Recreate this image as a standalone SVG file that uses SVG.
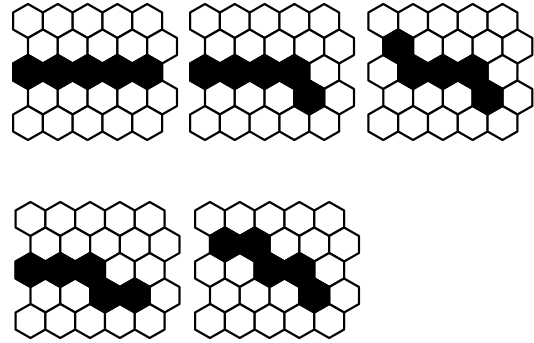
<svg xmlns="http://www.w3.org/2000/svg" xmlns:xlink="http://www.w3.org/1999/xlink" width="534" height="343" viewBox="0 0 534 343">
<style>
.h{stroke:#000;stroke-width:2.2;stroke-linejoin:round}
.w{fill:#fff}
.b{fill:#000}
</style>
<defs>
<path id="hex" d="M0,-17 L14.9,-8.5 L14.9,8.5 L0,17 L-14.9,8.5 L-14.9,-8.5 Z"/>
<g id="grid" class="h w">
<use xlink:href="#hex" x="0" y="0"/><use xlink:href="#hex" x="29.8" y="0"/><use xlink:href="#hex" x="59.6" y="0"/><use xlink:href="#hex" x="89.4" y="0"/><use xlink:href="#hex" x="119.2" y="0"/>
<use xlink:href="#hex" x="14.9" y="25.5"/><use xlink:href="#hex" x="44.7" y="25.5"/><use xlink:href="#hex" x="74.5" y="25.5"/><use xlink:href="#hex" x="104.3" y="25.5"/><use xlink:href="#hex" x="134.1" y="25.5"/>
<use xlink:href="#hex" x="0" y="51"/><use xlink:href="#hex" x="29.8" y="51"/><use xlink:href="#hex" x="59.6" y="51"/><use xlink:href="#hex" x="89.4" y="51"/><use xlink:href="#hex" x="119.2" y="51"/>
<use xlink:href="#hex" x="14.9" y="76.5"/><use xlink:href="#hex" x="44.7" y="76.5"/><use xlink:href="#hex" x="74.5" y="76.5"/><use xlink:href="#hex" x="104.3" y="76.5"/><use xlink:href="#hex" x="134.1" y="76.5"/>
<use xlink:href="#hex" x="0" y="102"/><use xlink:href="#hex" x="29.8" y="102"/><use xlink:href="#hex" x="59.6" y="102"/><use xlink:href="#hex" x="89.4" y="102"/><use xlink:href="#hex" x="119.2" y="102"/>
</g>
</defs>
<rect width="534" height="343" fill="#fff"/>
<g id="panel1" transform="translate(28,21)">
<use xlink:href="#grid"/>
<g class="h b">
<use xlink:href="#hex" x="0" y="51"/><use xlink:href="#hex" x="29.8" y="51"/><use xlink:href="#hex" x="59.6" y="51"/><use xlink:href="#hex" x="89.4" y="51"/><use xlink:href="#hex" x="119.2" y="51"/>
</g>
</g>
<g id="panel2" transform="translate(205,21)">
<use xlink:href="#grid"/>
<g class="h b">
<use xlink:href="#hex" x="0" y="51"/><use xlink:href="#hex" x="29.8" y="51"/><use xlink:href="#hex" x="59.6" y="51"/><use xlink:href="#hex" x="89.4" y="51"/><use xlink:href="#hex" x="104.3" y="76.5"/>
</g>
</g>
<g id="panel3" transform="translate(383.3,21)">
<use xlink:href="#grid"/>
<g class="h b">
<use xlink:href="#hex" x="14.9" y="25.5"/><use xlink:href="#hex" x="29.8" y="51"/><use xlink:href="#hex" x="59.6" y="51"/><use xlink:href="#hex" x="89.4" y="51"/><use xlink:href="#hex" x="104.3" y="76.5"/>
</g>
</g>
<g id="panel4" transform="translate(30.5,219)">
<use xlink:href="#grid"/>
<g class="h b">
<use xlink:href="#hex" x="0" y="51"/><use xlink:href="#hex" x="29.8" y="51"/><use xlink:href="#hex" x="59.6" y="51"/><use xlink:href="#hex" x="74.5" y="76.5"/><use xlink:href="#hex" x="104.3" y="76.5"/>
</g>
</g>
<g id="panel5" transform="translate(210,219)">
<use xlink:href="#grid"/>
<g class="h b">
<use xlink:href="#hex" x="14.9" y="25.5"/><use xlink:href="#hex" x="44.7" y="25.5"/><use xlink:href="#hex" x="59.6" y="51"/><use xlink:href="#hex" x="89.4" y="51"/><use xlink:href="#hex" x="104.3" y="76.5"/>
</g>
</g>
</svg>
